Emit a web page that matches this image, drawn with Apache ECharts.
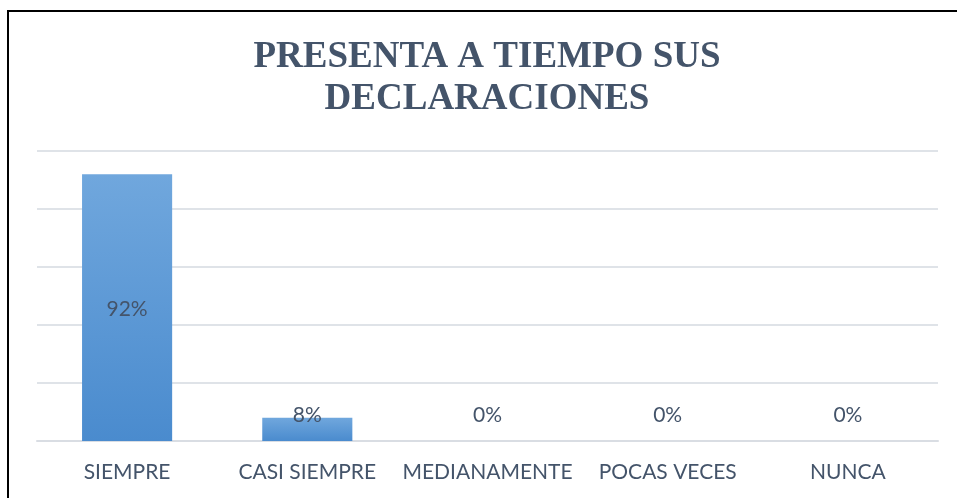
<!DOCTYPE html>
<html>
<head>
<meta charset="utf-8">
<script src="https://cdn.jsdelivr.net/npm/echarts@6/dist/echarts.min.js"></script>
<style>
  html, body { margin: 0; padding: 0; background: #fff; }
  #chart { width: 957px; height: 498px; }
</style>
</head>
<body>
<div id="chart"></div>
<script>
// datos del gráfico
const categories = ['SIEMPRE', 'CASI SIEMPRE', 'MEDIANAMENTE', 'POCAS VECES', 'NUNCA'];
const values = [0.92, 0.08, 0, 0, 0];
const titleText = 'PRESENTA A TIEMPO SUS\nDECLARACIONES';

const textColor = '#44546A';
const labelFont = 'Lato, "Open Sans", sans-serif';

let myChart = echarts.init(document.getElementById('chart'));
myChart.setOption({
    animation: false,
    backgroundColor: '#fff',
    graphic: [{
        type: 'rect',
        shape: { x: 8, y: 11, width: 1000, height: 600 },
        style: { fill: 'none', stroke: '#000', lineWidth: 2 },
        silent: true
    }],
    title: {
        text: titleText,
        left: 487,
        top: 36,
        padding: 0,
        textAlign: 'center',
        textStyle: {
            fontFamily: '"Liberation Serif", "Times New Roman", serif',
            fontWeight: 'bold',
            fontSize: 37,
            lineHeight: 42,
            color: textColor
        }
    },
    grid: { left: 37, right: 19, top: 151, bottom: 57 },
    xAxis: {
        type: 'category',
        data: categories,
        axisLine: { show: true, lineStyle: { color: '#D9DDE3', width: 2 } },
        axisTick: { show: false },
        axisLabel: {
            color: textColor,
            fontFamily: labelFont,
            fontSize: 21,
            margin: 21,
            interval: 0
        }
    },
    yAxis: {
        type: 'value',
        min: 0,
        max: 1,
        interval: 0.2,
        axisLabel: { show: false },
        axisLine: { show: false },
        axisTick: { show: false },
        splitLine: { lineStyle: { color: '#DFE3E8', width: 2 } }
    },
    series: [{
        type: 'bar',
        barWidth: '50%',
        data: values.map((v, i) => ({
            value: v,
            label: i === 0
                ? { position: 'inside', offset: [0, 2] }
                : { position: 'insideBottom', distance: 15 }
        })),
        itemStyle: {
            color: new echarts.graphic.LinearGradient(0, 0, 0, 1, [
                { offset: 0, color: '#70A7DD' },
                { offset: 1, color: '#4A8BCE' }
            ])
        },
        label: {
            show: true,
            color: textColor,
            fontFamily: labelFont,
            fontSize: 21,
            formatter: p => Math.round(p.value * 100) + '%'
        }
    }]
});
</script>
</body>
</html>
